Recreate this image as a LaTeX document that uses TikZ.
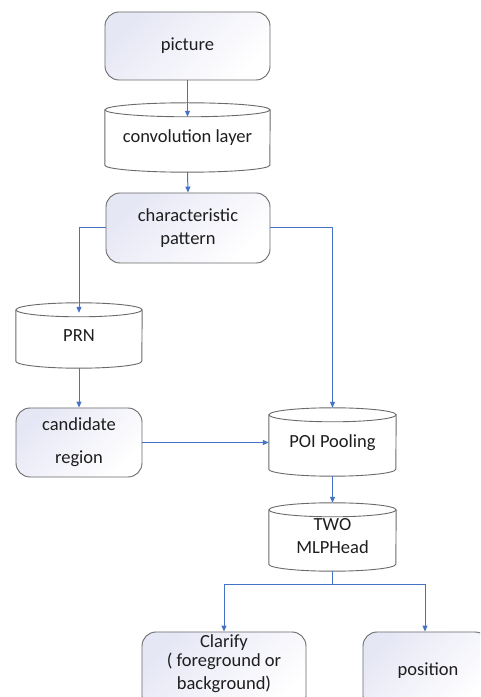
\documentclass[tikz,border=0pt]{standalone}
\usepackage{fontspec}
\setmainfont{Carlito}
\usetikzlibrary{arrows.meta,calc}
\definecolor{arrblue}{HTML}{4472C4}
\definecolor{lav}{HTML}{E6E7F5}
\definecolor{edge}{HTML}{6A6A6A}
\definecolor{txt}{HTML}{1E1E1E}
\tikzset{
  box/.style={draw=edge, line width=0.9pt, rounded corners=14pt, top color=lav, bottom color=white, shading angle=45, inner sep=0pt, text=txt, align=center},
  cylnode/.style={inner sep=0pt, text=txt, align=center},
  cylline/.style={draw=edge, line width=0.9pt, fill=white},
  arr/.style={draw=arrblue, line width=1pt, -{Triangle[length=6pt,width=5pt]}},
  conn/.style={draw=arrblue, line width=1pt},
}
\newcommand\cylbody[3]{% name, half width, height
  \fill[white] ($(#1.north west)+(0,-7)$) rectangle ($(#1.south east)+(0,7)$);
  \draw[cylline] ($(#1.north west)+(0,-7)$) -- ($(#1.south west)+(0,7)$)
     arc[start angle=180,end angle=360,x radius=#2,y radius=7]
     -- ($(#1.north east)+(0,-7)$);
  \draw[cylline] ($(#1.north)+(0,-7)$) ellipse[x radius=#2,y radius=7];
}
\begin{document}
\begin{tikzpicture}[x=1pt,y=1pt,font=\fontsize{18.5}{23}\selectfont]
\useasboundingbox (0,0) rectangle (480,697);
\clip (0,0) rectangle (480,697);
\fill[white] (0,0) rectangle (480,697);

% rounded boxes
\node[box, minimum width=165, minimum height=68] (pic) at (187.5,651) {picture};
\node[box, minimum width=164, minimum height=70] (char) at (188,469) {characteristic\\pattern};
\node[box, minimum width=126, minimum height=69] (cand) at (79,254.5) {candidate\\[10pt]region};
\node[box, minimum width=164, minimum height=78] (clar) at (224,26) {};
\node[text=txt, align=center, inner sep=0pt] (clartxt) at (224,33) {Clarify\\[-4pt]( foreground or\\background)};
\node[box, minimum width=126, minimum height=78] (pos) at (426,26) {};
\node[text=txt, inner sep=0pt] (postxt) at (428,26) {position};

% cylinders
\node[cylnode, minimum width=165, minimum height=69] (conv) at (187.5,559.5) {};
\cylbody{conv}{82.5}{69}
\node[cylnode] (convtxt) at (187.5,559.5) {convolution layer};

\node[cylnode, minimum width=126, minimum height=65] (prn) at (79,361.5) {};
\cylbody{prn}{63}{65}
\node[cylnode] (prntxt) at (79,361.5) {PRN};

\node[cylnode, minimum width=127, minimum height=68] (poi) at (332.5,255) {};
\cylbody{poi}{63.5}{68}
\node[cylnode] (poitxt) at (332.5,254) {POI Pooling};

\node[cylnode, minimum width=127, minimum height=68] (two) at (332.5,160) {};
\cylbody{two}{63.5}{68}
\node[cylnode] (twotxt) at (332.5,160.5) {TWO\\MLPHead};

% connectors
\draw[arr] (pic.south) -- ($(conv.north)+(0,-14)$);
\draw[arr] (conv.south) -- (char.north);
\draw[arr] (char.west) -| ($(prn.north)+(0,-10)$);
\draw[arr] (char.east) -| (poi.north);
\draw[arr] (prn.south) -- (cand.north);
\draw[arr] (cand.east) -- (cand.east -| poi.west);
\draw[arr] (poi.south) -- (two.north);
\coordinate (br) at ($(two.south)+(0,-13)$);
\draw[conn] (two.south) -- (br);
\draw[arr] (br) -| (clar.north);
\draw[arr] (br) -| ($(pos.north)+(-1,0)$);
\end{tikzpicture}
\end{document}
